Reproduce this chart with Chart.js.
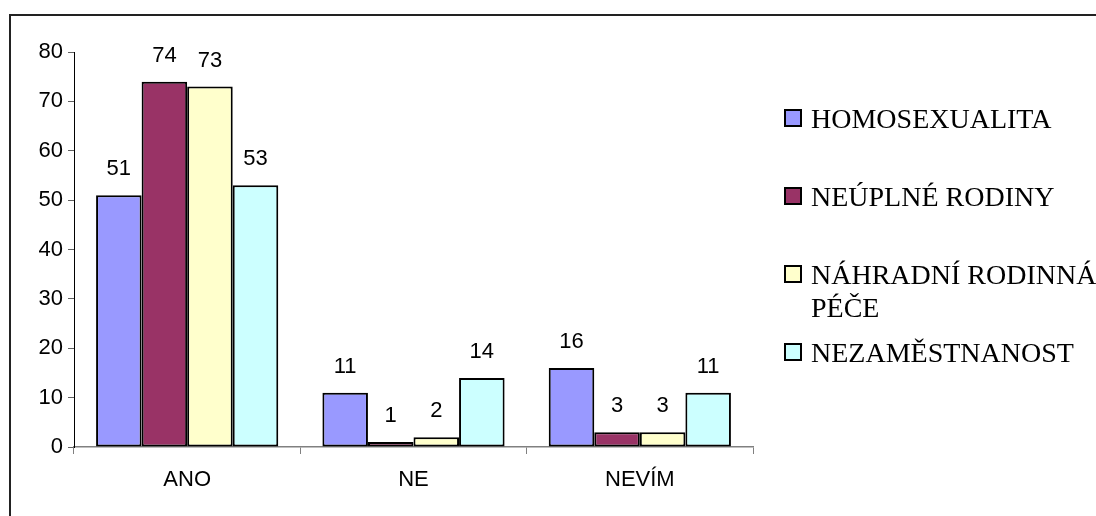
<!DOCTYPE html>
<html>
<head>
<meta charset="utf-8">
<script src="https://cdn.jsdelivr.net/npm/chart.js@4"></script>
<style>
  html, body { margin: 0; padding: 0; background: #fff; overflow: hidden; }
  #wrap { position: relative; width: 1096px; height: 516px; overflow: hidden; }
  #legend { position: absolute; left: 0; top: 0; }
  .item { position: absolute; left: 784px; width: 312px; }
  .box { position: absolute; left: 0; width: 14px; height: 14px; border: 2px solid #000; }
  .txt { position: absolute; left: 27px; width: 300px; font-family: "Liberation Serif", "Times New Roman", serif;
         font-size: 28px; line-height: 33px; color: #000; white-space: normal; }
</style>
</head>
<body>
<div id="wrap">
  <canvas id="chart" width="1096" height="516"></canvas>
  <div id="legend"></div>
</div>
<script>
// categories and series
var categories = ['ANO', 'NE', 'NEVÍM'];
var seriesNames = ['HOMOSEXUALITA', 'NEÚPLNÉ RODINY', 'NÁHRADNÍ RODINNÁ PÉČE', 'NEZAMĚSTNANOST'];
var homosexualita = [51, 11, 16];
var neuplneRodiny = [74, 1, 3];
var nahradniPece = [73, 2, 3];
var nezamestnanost = [53, 14, 11];
var seriesColors = ['#9999FF', '#993366', '#FFFFCC', '#CCFFFF'];

var seriesValues = [homosexualita, neuplneRodiny, nahradniPece, nezamestnanost];

// outer frame of the chart object
var framePlugin = {
    id: 'frame',
    beforeDraw: function (chart) {
        var ctx = chart.ctx;
        ctx.save();
        ctx.fillStyle = '#fff';
        ctx.fillRect(0, 0, chart.width, chart.height);
        ctx.strokeStyle = '#222';
        ctx.lineWidth = 2;
        ctx.strokeRect(10, 15, 1200, 600);
        ctx.restore();
    }
};

// value labels above each bar
var valueLabels = {
    id: 'valueLabels',
    afterDatasetsDraw: function (chart) {
        var ctx = chart.ctx;
        ctx.save();
        ctx.font = '22px "Liberation Sans", Arial, sans-serif';
        ctx.fillStyle = '#000';
        ctx.textAlign = 'center';
        ctx.textBaseline = 'middle';
        chart.data.datasets.forEach(function (ds, i) {
            chart.getDatasetMeta(i).data.forEach(function (bar, j) {
                ctx.fillText(ds.data[j], bar.x, bar.y - 26);
            });
        });
        ctx.restore();
    }
};

var chart = new Chart(document.getElementById('chart').getContext('2d'), {
    type: 'bar',
    data: {
        labels: categories,
        datasets: seriesNames.map(function (name, i) {
            return {
                label: name,
                data: seriesValues[i],
                backgroundColor: seriesColors[i],
                borderColor: '#000',
                borderWidth: 2,
                borderSkipped: false,
                categoryPercentage: 0.805,
                barPercentage: 1.0
            };
        })
    },
    options: {
        responsive: false,
        animation: false,
        devicePixelRatio: 1,
        layout: { padding: { left: 0, right: 343, top: 52, bottom: 0 } },
        plugins: {
            legend: { display: false },
            tooltip: { enabled: false }
        },
        scales: {
            x: {
                grid: { offset: true, drawOnChartArea: false, tickLength: 7, color: '#808080' },
                border: { color: '#808080', width: 1.5 },
                ticks: {
                    color: '#000',
                    font: { family: '"Liberation Sans", Arial, sans-serif', size: 22 },
                    padding: 13
                },
                afterFit: function (scale) { scale.height = 69; }
            },
            y: {
                min: 0,
                max: 80,
                ticks: {
                    stepSize: 10,
                    color: '#000',
                    font: { family: '"Liberation Sans", Arial, sans-serif', size: 22 },
                    padding: 5
                },
                grid: { drawOnChartArea: false, tickLength: 6, color: '#606060' },
                border: { color: '#000', width: 1 },
                afterFit: function (scale) { scale.width = 74; }
            }
        }
    },
    plugins: [framePlugin, valueLabels]
});

// legend on the right, as in the original
var legend = document.getElementById('legend');
seriesNames.forEach(function (name, i) {
    var cy = 118 + i * 78;
    var item = document.createElement('div');
    item.className = 'item';
    item.style.top = (cy - 16.5) + 'px';
    var box = document.createElement('div');
    box.className = 'box';
    box.style.top = (16.5 - 9) + 'px';
    box.style.background = seriesColors[i];
    var txt = document.createElement('div');
    txt.className = 'txt';
    txt.style.top = '0px';
    txt.textContent = name;
    item.appendChild(box);
    item.appendChild(txt);
    legend.appendChild(item);
});
</script>
</body>
</html>
